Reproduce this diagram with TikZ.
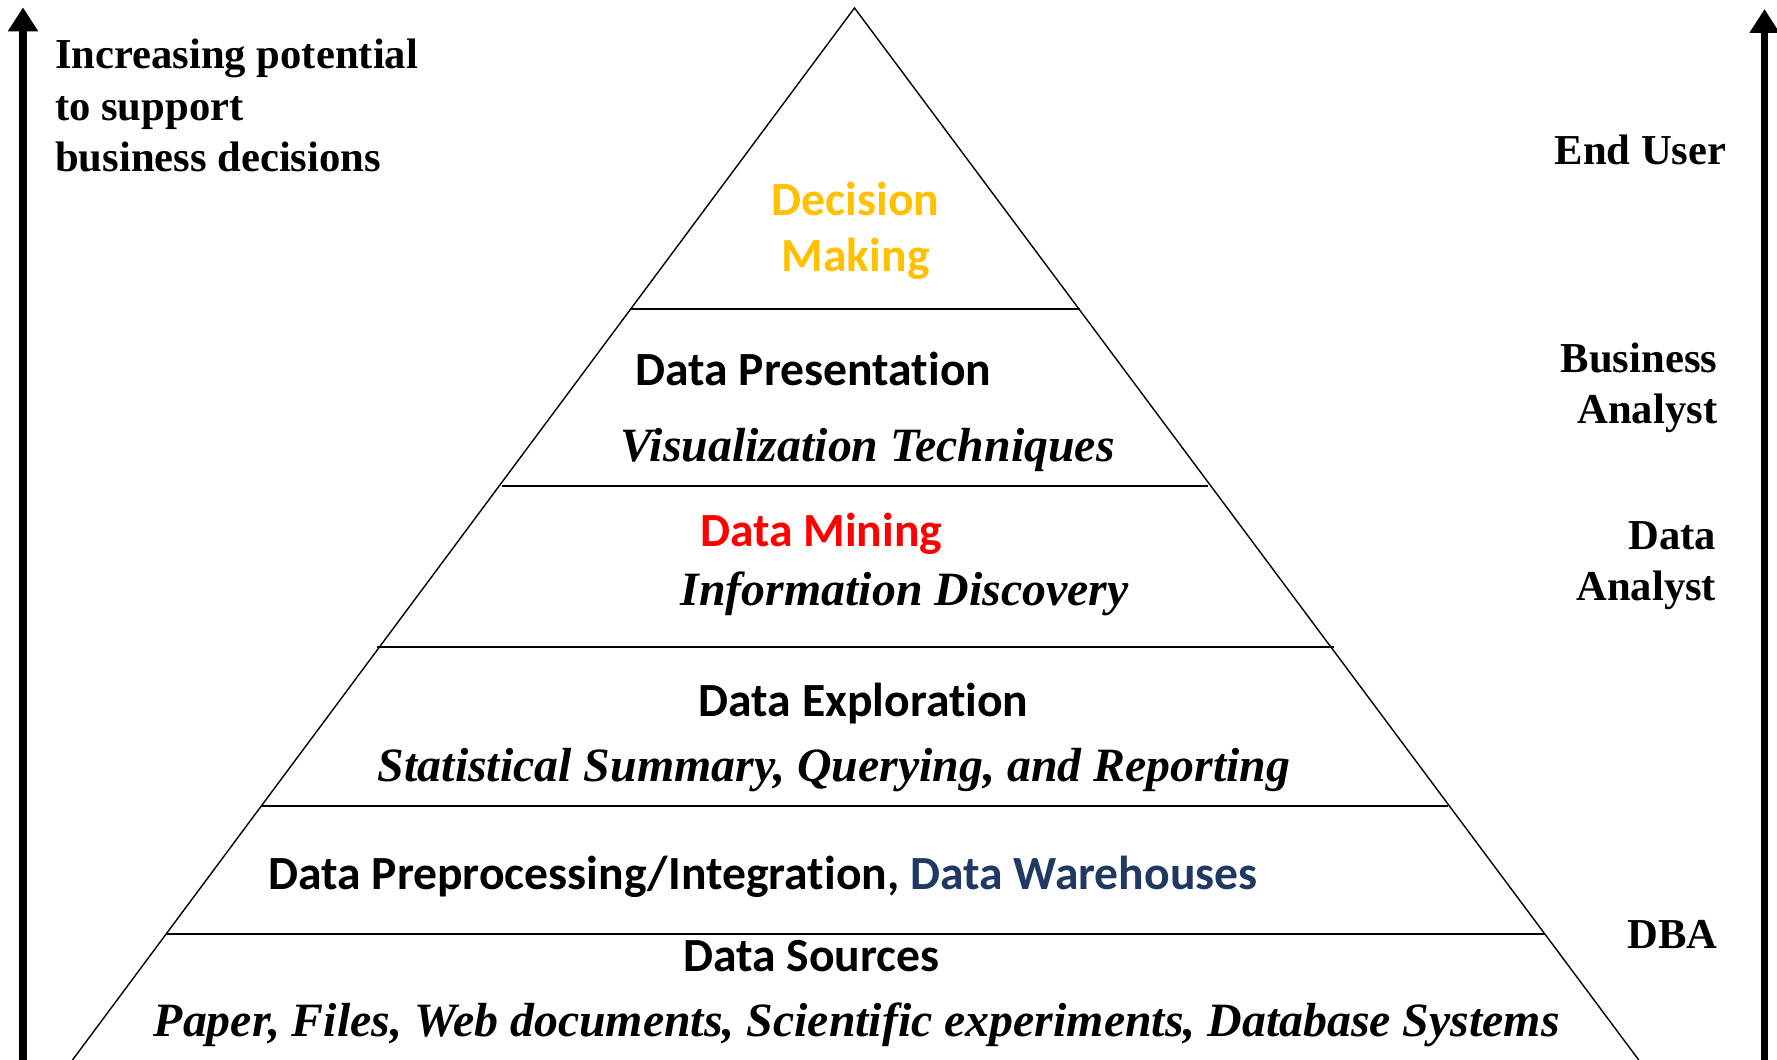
\documentclass[tikz,border=0pt]{standalone}
\usepackage{fontspec}
\setmainfont{Liberation Serif}
\newfontfamily\calibri[Ligatures={NoCommon,NoRare}]{Carlito}
\usetikzlibrary{arrows.meta}
\definecolor{gold}{HTML}{FFC000}
\definecolor{minered}{HTML}{FF0000}
\definecolor{navy}{HTML}{1F3864}

\tikzset{
  role/.style={font=\fontsize{10.7}{12.9}\selectfont\bfseries, inner sep=0pt},
  layer/.style={font=\fontsize{11.95}{14.2}\selectfont\calibri\bfseries, inner sep=0pt},
  method/.style={font=\fontsize{12}{14}\selectfont\bfseries\itshape, inner sep=0pt},
  tier/.style={line width=0.45pt},
  axis/.style={line width=1.85pt, -{Triangle[width=7.2pt,length=6pt]}}
}

\begin{document}
\begin{tikzpicture}[x=0.01cm,y=-0.01cm]
    \useasboundingbox (0,0) rectangle (1568,935.3);
    % pyramid
    \coordinate (apex) at (754,7);
    \coordinate (bl) at (64,935.3);
    \coordinate (br) at (1446,935.3);
    \draw [line width=0.35pt] (bl) -- (apex) -- (br);
    \draw [tier] (556,273) -- (953,273);
    \draw [tier] (443,429) -- (1066,429);
    \draw [tier] (333,571) -- (1177,571);
    \draw [tier] (231,711) -- (1278,711);
    \draw [tier] (147,824) -- (1363,824);
    % axes
    \coordinate (lfoot) at (20.3,935.3);
    \coordinate (ltip) at (20.3,6.5);
    \coordinate (rfoot) at (1557,935.3);
    \coordinate (rtip) at (1557,8);
    \draw [axis] (lfoot) -- (ltip);
    \draw [axis] (rfoot) -- (rtip);
    % side labels
    \node [role, anchor=base west, align=left] (potential) at (48,151.5) {Increasing potential\\to support\\business decisions};
    \node [role, anchor=base east] (enduser) at (1524,145) {End User};
    \node [role, anchor=base east, align=right] (business) at (1516,374) {Business\\Analyst};
    \node [role, anchor=base east, align=right] (analyst) at (1515,530) {Data\\Analyst};
    \node [role, anchor=base east] (dba) at (1516,837) {DBA};
    % layers
    \node [layer, text=gold, align=center, anchor=base] (decision) at (755,240) {Decision\\Making};
    \node [layer, anchor=base west] (presentation) at (560,340) {Data Presentation};
    \node [method, anchor=base west] (visual) at (547,407) {Visualization Techniques};
    \node [layer, text=minered, anchor=base west] (mining) at (617,482) {Data Mining};
    \node [method, anchor=base west] (discovery) at (600,534) {Information Discovery};
    \node [layer, anchor=base] (exploration) at (762,632) {Data Exploration};
    \node [method, anchor=base] (summary) at (736,690) {Statistical Summary, Querying, and Reporting};
    \node [layer, anchor=base west] (preprocessing) at (236,785) {Data Preprocessing/Integration, \textcolor{navy}{Data Warehouses}};
    \node [layer, anchor=base] (sources) at (716,857) {Data Sources};
    \node [method, anchor=base] (papers) at (756,915) {Paper, Files, Web documents, Scientific experiments, Database Systems};
  \end{tikzpicture}
\end{document}
